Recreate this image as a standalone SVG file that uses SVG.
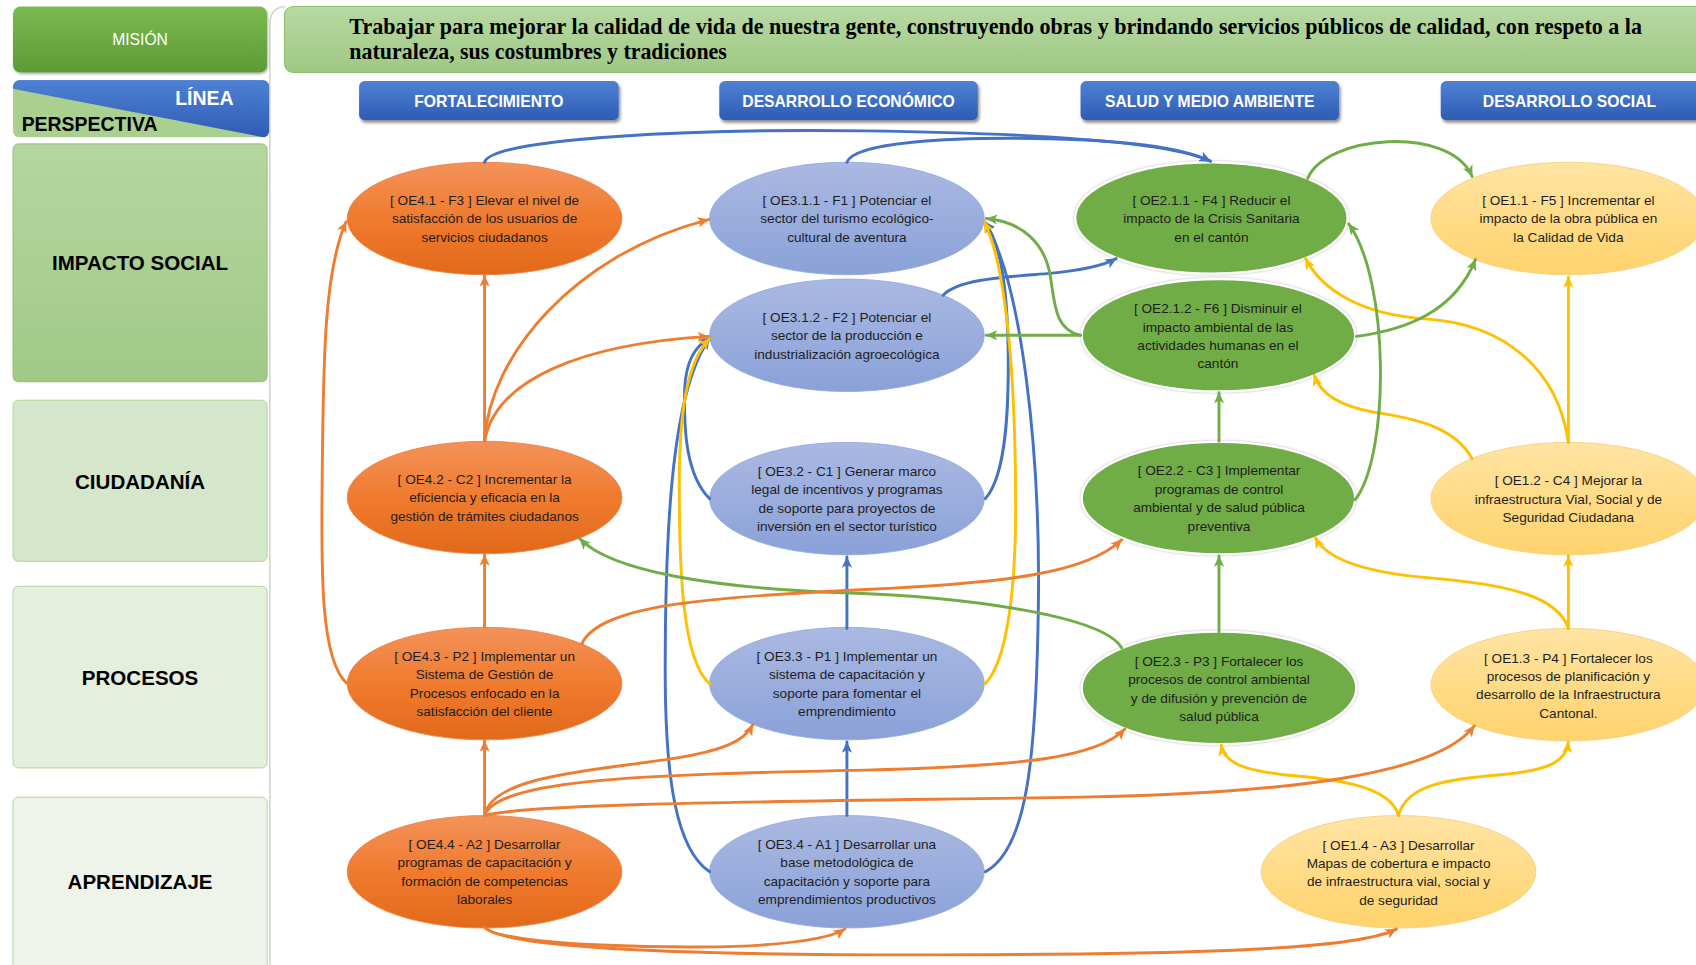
<svg xmlns="http://www.w3.org/2000/svg" width="1696" height="965" viewBox="0 0 1696 965">
<defs>
<linearGradient id="gOr" x1="0" y1="0" x2="0" y2="1"><stop offset="0" stop-color="#f3925a"/><stop offset="0.5" stop-color="#f07b2e"/><stop offset="1" stop-color="#e2691a"/></linearGradient>
<linearGradient id="gBl" x1="0" y1="0" x2="0" y2="1"><stop offset="0" stop-color="#aab9e2"/><stop offset="1" stop-color="#8aa1d8"/></linearGradient>
<linearGradient id="gYe" x1="0" y1="0" x2="0" y2="1"><stop offset="0" stop-color="#ffe4a3"/><stop offset="1" stop-color="#ffd36c"/></linearGradient>
<linearGradient id="gHd" x1="0" y1="0" x2="0" y2="1"><stop offset="0" stop-color="#4f81d4"/><stop offset="1" stop-color="#2e5cb4"/></linearGradient>
<linearGradient id="gMis" x1="0" y1="0" x2="0" y2="1"><stop offset="0" stop-color="#7bba50"/><stop offset="1" stop-color="#5d9a36"/></linearGradient>
<linearGradient id="gBan" x1="0" y1="0" x2="0" y2="1"><stop offset="0" stop-color="#b8d9a3"/><stop offset="1" stop-color="#9fc884"/></linearGradient>
<linearGradient id="gImp" x1="0" y1="0" x2="0" y2="1"><stop offset="0" stop-color="#b5d6a0"/><stop offset="1" stop-color="#a0c986"/></linearGradient>
<linearGradient id="gLin" x1="0" y1="0" x2="0" y2="1"><stop offset="0" stop-color="#4f81d4"/><stop offset="1" stop-color="#2e5cb4"/></linearGradient>
<filter id="shHd" x="-10%" y="-20%" width="120%" height="160%"><feDropShadow dx="1.5" dy="2.5" stdDeviation="1.3" flood-color="#000" flood-opacity="0.45"/></filter>
<filter id="shBox" x="-10%" y="-10%" width="120%" height="130%"><feDropShadow dx="0.8" dy="1.5" stdDeviation="1" flood-color="#000" flood-opacity="0.3"/></filter>
<filter id="halo" x="-10%" y="-10%" width="120%" height="120%"><feDropShadow dx="0" dy="0" stdDeviation="1.2" flood-color="#777" flood-opacity="0.6"/></filter>
<clipPath id="clipLin"><rect x="12" y="74" width="237" height="53" rx="6"/></clipPath>
<marker id="aO" viewBox="0 0 10 10" refX="9.5" refY="5" markerWidth="10.5" markerHeight="10.5" markerUnits="userSpaceOnUse" orient="auto"><path d="M0,0.5 L10,5 L0,9.5 L2.5,5 z" fill="#ed7d31"/></marker>
<marker id="aB" viewBox="0 0 10 10" refX="9.5" refY="5" markerWidth="10.5" markerHeight="10.5" markerUnits="userSpaceOnUse" orient="auto"><path d="M0,0.5 L10,5 L0,9.5 L2.5,5 z" fill="#4472c4"/></marker>
<marker id="aG" viewBox="0 0 10 10" refX="9.5" refY="5" markerWidth="10.5" markerHeight="10.5" markerUnits="userSpaceOnUse" orient="auto"><path d="M0,0.5 L10,5 L0,9.5 L2.5,5 z" fill="#70ad47"/></marker>
<marker id="aY" viewBox="0 0 10 10" refX="9.5" refY="5" markerWidth="10.5" markerHeight="10.5" markerUnits="userSpaceOnUse" orient="auto"><path d="M0,0.5 L10,5 L0,9.5 L2.5,5 z" fill="#ffc000"/></marker>
</defs>
<style>
.nt{font-family:"Liberation Sans",Arial,sans-serif;font-size:12.6px;fill:#1e1e1e;text-anchor:middle}
.eO{fill:url(#gOr);stroke:#ee8240;stroke-width:0.8}
.eB{fill:url(#gBl);stroke:#8eaadb;stroke-width:0.8}
.eG{fill:#70ad47;stroke:#ffffff;stroke-width:2.2;filter:url(#halo)}
.eY{fill:url(#gYe);stroke:#f5d07c;stroke-width:0.8}
.hd{fill:url(#gHd);filter:url(#shHd)}
.ht{font-family:"Liberation Sans",Arial,sans-serif;font-size:14.5px;font-weight:bold;fill:#ffffff;text-anchor:middle}
.lt{font-family:"Liberation Sans",Arial,sans-serif;font-size:19px;font-weight:bold;fill:#000;text-anchor:middle}
.c{fill:none;stroke-width:2.7;stroke-linecap:round}
.co{stroke:#ed7d31;marker-end:url(#aO)}
.cb{stroke:#4472c4;marker-end:url(#aB)}
.cg{stroke:#70ad47;marker-end:url(#aG)}
.cy{stroke:#ffc000;marker-end:url(#aY)}
</style>
<rect x="0" y="0" width="1696" height="965" fill="#ffffff"/>
<g transform="scale(1.081633)">
<path d="M249.5 892 L249.5 22 Q249.5 7 264 6" fill="none" stroke="#d4d4d4" stroke-width="1.5"/>
<g id="mision-label">
<rect x="12" y="6" width="235" height="61" rx="7" fill="url(#gMis)" filter="url(#shBox)"/>
<text x="129.5" y="42" style="font-family:'Liberation Sans',Arial,sans-serif;font-size:14.5px;fill:#fff;text-anchor:middle">MISIÓN</text>
</g>
<g id="linea-perspectiva">
<g clip-path="url(#clipLin)" filter="url(#shBox)">
<rect x="12" y="74" width="237" height="53" fill="url(#gLin)"/>
<polygon points="12,82 249,128 12,128" fill="#a9d08e"/>
</g>
<text x="189" y="97" style="font-family:'Liberation Sans',Arial,sans-serif;font-size:18px;font-weight:bold;fill:#fff;text-anchor:middle">LÍNEA</text>
<text x="20" y="121" style="font-family:'Liberation Sans',Arial,sans-serif;font-size:18px;font-weight:bold;fill:#000">PERSPECTIVA</text>
</g>
<g id="p-impacto"><rect x="12" y="133" width="235" height="220" rx="5" fill="url(#gImp)" stroke="#8cbf6e" stroke-width="0.8"/><text class="lt" x="129.5" y="250">IMPACTO SOCIAL</text></g>
<g id="p-ciudadania"><rect x="12" y="370" width="235" height="149" rx="5" fill="#d5e6ca" stroke="#a9d08e" stroke-width="0.8"/><text class="lt" x="129.5" y="452">CIUDADANÍA</text></g>
<g id="p-procesos"><rect x="12" y="542" width="235" height="168" rx="5" fill="#e5efde" stroke="#a9d08e" stroke-width="0.8"/><text class="lt" x="129.5" y="633">PROCESOS</text></g>
<g id="p-aprendizaje"><rect x="12" y="737" width="235" height="170" rx="5" fill="#eef4ea" stroke="#a9d08e" stroke-width="0.8"/><text class="lt" x="129.5" y="822">APRENDIZAJE</text></g>
<g id="mision-text">
<rect x="263" y="6" width="1330" height="61" rx="8" fill="url(#gBan)" stroke="#8dbf6d" stroke-width="1"/>
<text x="323" y="31" textLength="1195" lengthAdjust="spacingAndGlyphs" style="font-family:'Liberation Serif','Times New Roman',serif;font-size:20.5px;font-weight:bold;fill:#000">Trabajar para mejorar la calidad de vida de nuestra gente, construyendo obras y brindando servicios públicos de calidad, con respeto a la</text>
<text x="323" y="55" textLength="349" lengthAdjust="spacingAndGlyphs" style="font-family:'Liberation Serif','Times New Roman',serif;font-size:20.5px;font-weight:bold;fill:#000">naturaleza, sus costumbres y tradiciones</text>
</g>
<g id="h-fortalecimiento"><rect class="hd" x="332" y="75" width="240" height="36" rx="5"/><text class="ht" x="452" y="98.5">FORTALECIMIENTO</text></g>
<g id="h-economico"><rect class="hd" x="665" y="75" width="239" height="36" rx="5"/><text class="ht" x="784.5" y="98.5">DESARROLLO ECONÓMICO</text></g>
<g id="h-salud"><rect class="hd" x="999" y="75" width="239" height="36" rx="5"/><text class="ht" x="1118.5" y="98.5">SALUD Y MEDIO AMBIENTE</text></g>
<g id="h-social"><rect class="hd" x="1332" y="75" width="250" height="36" rx="5"/><text class="ht" x="1451" y="98.5">DESARROLLO SOCIAL</text></g>

<g id="OE4.1"><ellipse class="eO" cx="448" cy="202" rx="127" ry="52"/><text class="nt"><tspan x="448" y="189.5">[ OE4.1 - F3 ] Elevar el nivel de</tspan><tspan x="448" y="206.5">satisfacción de los usuarios de</tspan><tspan x="448" y="223.5">servicios ciudadanos</tspan></text></g>
<g id="OE4.2"><ellipse class="eO" cx="448" cy="460" rx="127" ry="52"/><text class="nt"><tspan x="448" y="447.5">[ OE4.2 - C2 ] Incrementar la</tspan><tspan x="448" y="464.5">eficiencia y eficacia en la</tspan><tspan x="448" y="481.5">gestión de trámites ciudadanos</tspan></text></g>
<g id="OE4.3"><ellipse class="eO" cx="448" cy="632" rx="127" ry="52"/><text class="nt"><tspan x="448" y="611">[ OE4.3 - P2 ] Implementar un</tspan><tspan x="448" y="628">Sistema de Gestión de</tspan><tspan x="448" y="645">Procesos enfocado en la</tspan><tspan x="448" y="662">satisfacción del cliente</tspan></text></g>
<g id="OE4.4"><ellipse class="eO" cx="448" cy="806" rx="127" ry="52"/><text class="nt"><tspan x="448" y="785">[ OE4.4 - A2 ] Desarrollar</tspan><tspan x="448" y="802">programas de capacitación y</tspan><tspan x="448" y="819">formación de competencias</tspan><tspan x="448" y="836">laborales</tspan></text></g>

<g id="OE3.1.1"><ellipse class="eB" cx="783" cy="202" rx="127" ry="52"/><text class="nt"><tspan x="783" y="189.5">[ OE3.1.1 - F1 ] Potenciar el</tspan><tspan x="783" y="206.5">sector del turismo ecológico-</tspan><tspan x="783" y="223.5">cultural de aventura</tspan></text></g>
<g id="OE3.1.2"><ellipse class="eB" cx="783" cy="310" rx="127" ry="52"/><text class="nt"><tspan x="783" y="297.5">[ OE3.1.2 - F2 ] Potenciar el</tspan><tspan x="783" y="314.5">sector de la producción e</tspan><tspan x="783" y="331.5">industrialización agroecológica</tspan></text></g>
<g id="OE3.2"><ellipse class="eB" cx="783" cy="461" rx="127" ry="52"/><text class="nt"><tspan x="783" y="440">[ OE3.2 - C1 ] Generar marco</tspan><tspan x="783" y="457">legal de incentivos y programas</tspan><tspan x="783" y="474">de soporte para proyectos de</tspan><tspan x="783" y="491">inversión en el sector turístico</tspan></text></g>
<g id="OE3.3"><ellipse class="eB" cx="783" cy="632" rx="127" ry="52"/><text class="nt"><tspan x="783" y="611">[ OE3.3 - P1 ] Implementar un</tspan><tspan x="783" y="628">sistema de capacitación y</tspan><tspan x="783" y="645">soporte para fomentar el</tspan><tspan x="783" y="662">emprendimiento</tspan></text></g>
<g id="OE3.4"><ellipse class="eB" cx="783" cy="806" rx="127" ry="52"/><text class="nt"><tspan x="783" y="785">[ OE3.4 - A1 ] Desarrollar una</tspan><tspan x="783" y="802">base metodológica de</tspan><tspan x="783" y="819">capacitación y soporte para</tspan><tspan x="783" y="836">emprendimientos productivos</tspan></text></g>

<g id="OE2.1.1"><ellipse class="eG" cx="1120" cy="201.5" rx="126" ry="51.5"/><text class="nt"><tspan x="1120" y="189.5">[ OE2.1.1 - F4 ] Reducir el</tspan><tspan x="1120" y="206.5">impacto de la Crisis Sanitaria</tspan><tspan x="1120" y="223.5">en el cantón</tspan></text></g>
<g id="OE2.1.2"><ellipse class="eG" cx="1126.5" cy="310" rx="126.5" ry="52"/><text class="nt"><tspan x="1126" y="289.5">[ OE2.1.2 - F6 ] Disminuir el</tspan><tspan x="1126" y="306.5">impacto ambiental de las</tspan><tspan x="1126" y="323.5">actividades humanas en el</tspan><tspan x="1126" y="340.5">cantón</tspan></text></g>
<g id="OE2.2"><ellipse class="eG" cx="1126.5" cy="460.5" rx="126.5" ry="52"/><text class="nt"><tspan x="1127" y="439.5">[ OE2.2 - C3 ] Implementar</tspan><tspan x="1127" y="456.5">programas de control</tspan><tspan x="1127" y="473.5">ambiental y de salud pública</tspan><tspan x="1127" y="490.5">preventiva</tspan></text></g>
<g id="OE2.3"><ellipse class="eG" cx="1127" cy="636" rx="127" ry="52"/><text class="nt"><tspan x="1127" y="615.5">[ OE2.3 - P3 ] Fortalecer los</tspan><tspan x="1127" y="632.5">procesos de control ambiental</tspan><tspan x="1127" y="649.5">y de difusión y prevención de</tspan><tspan x="1127" y="666.5">salud pública</tspan></text></g>

<g id="OE1.1"><ellipse class="eY" cx="1450" cy="202" rx="127" ry="52"/><text class="nt"><tspan x="1450" y="189.5">[ OE1.1 - F5 ] Incrementar el</tspan><tspan x="1450" y="206.5">impacto de la obra pública en</tspan><tspan x="1450" y="223.5">la Calidad de Vida</tspan></text></g>
<g id="OE1.2"><ellipse class="eY" cx="1450" cy="461" rx="127" ry="52"/><text class="nt"><tspan x="1450" y="448.5">[ OE1.2 - C4 ] Mejorar la</tspan><tspan x="1450" y="465.5">infraestructura Vial, Social y de</tspan><tspan x="1450" y="482.5">Seguridad Ciudadana</tspan></text></g>
<g id="OE1.3"><ellipse class="eY" cx="1450" cy="633" rx="127" ry="52"/><text class="nt"><tspan x="1450" y="612.5">[ OE1.3 - P4 ] Fortalecer los</tspan><tspan x="1450" y="629.5">procesos de planificación y</tspan><tspan x="1450" y="646.5">desarrollo de la Infraestructura</tspan><tspan x="1450" y="663.5">Cantonal.</tspan></text></g>
<g id="OE1.4"><ellipse class="eY" cx="1293" cy="806" rx="127" ry="52"/><text class="nt"><tspan x="1293" y="785.5">[ OE1.4 - A3 ] Desarrollar</tspan><tspan x="1293" y="802.5">Mapas de cobertura e impacto</tspan><tspan x="1293" y="819.5">de infraestructura vial, social y</tspan><tspan x="1293" y="836.5">de seguridad</tspan></text></g>

<g id="connectors">
<path class="c cb" d="M448 150 C 455 127, 650 119, 800 121 C 950 123, 1080 131, 1119 149"/>
<path class="c cb" d="M783 150 C 790 131, 880 127, 955 128 C 1030 129, 1090 135, 1119 149"/>
<path class="c cb" d="M872 273 C 885 258, 930 256, 968 253 C 1000 250, 1020 246, 1032 239"/>
<path class="c cb" d="M783 581 L783 515"/>
<path class="c cb" d="M783 754 L783 686"/>
<path class="c cb" d="M656 461 C 635 440, 632 400, 633 360 C 634 335, 642 320, 656 313"/>
<path class="c cb" d="M656 806 C 625 785, 615 720, 615 620 C 615 480, 622 360, 656 313"/>
<path class="c cb" d="M911 461 C 930 440, 933 380, 932 320 C 931 260, 924 222, 910 205"/>
<path class="c cb" d="M911 806 C 950 785, 958 700, 960 560 C 962 420, 945 260, 910 205"/>
<path class="c cy" d="M656 632 C 630 610, 628 520, 628 450 C 628 380, 635 335, 656 313"/>
<path class="c cy" d="M911 632 C 932 610, 939 540, 939 470 C 939 360, 932 250, 910 205"/>
<path class="c cy" d="M1450 409 L1450 256"/>
<path class="c cy" d="M1450 409 C 1440 340, 1390 300, 1320 295 C 1258 291, 1222 268, 1207 239"/>
<path class="c cy" d="M1361 424 C 1345 395, 1310 387, 1270 381 C 1235 375, 1220 362, 1215 347"/>
<path class="c cy" d="M1450 581 L1450 514"/>
<path class="c cy" d="M1450 581 C 1440 550, 1390 540, 1320 534 C 1260 529, 1226 516, 1216 497"/>
<path class="c cy" d="M1293 754 C 1285 725, 1230 720, 1185 716 C 1150 712, 1132 705, 1129 689"/>
<path class="c cy" d="M1293 754 C 1300 725, 1340 720, 1390 716 C 1430 712, 1448 705, 1450 686"/>
<path class="c cg" d="M1209 165 C 1225 125, 1340 115, 1361 163"/>
<path class="c cg" d="M1254 311 C 1300 305, 1345 288, 1364 240"/>
<path class="c cg" d="M999 310 L912 310"/>
<path class="c cg" d="M999 310 C 975 305, 975 280, 971 255 C 966 225, 945 205, 912 202"/>
<path class="c cg" d="M1127 408 L1127 363"/>
<path class="c cg" d="M1253 462 C 1285 420, 1285 260, 1247 207"/>
<path class="c cg" d="M1127 584 L1127 514"/>
<path class="c cg" d="M1037 599 C 1020 570, 900 552, 780 548 C 660 544, 565 528, 536 498"/>
<path class="c co" d="M448 408 L448 255"/>
<path class="c co" d="M448 408 C 452 330, 530 235, 655 203"/>
<path class="c co" d="M448 408 C 458 350, 540 318, 655 311"/>
<path class="c co" d="M448 580 L448 513"/>
<path class="c co" d="M321 632 C 295 610, 297 520, 298 430 C 299 330, 300 250, 320 205"/>
<path class="c co" d="M538 595 C 555 560, 650 552, 800 545 C 930 539, 1005 530, 1037 499"/>
<path class="c co" d="M448 754 L448 685"/>
<path class="c co" d="M448 754 C 455 715, 560 712, 630 700 C 670 693, 688 685, 696 670"/>
<path class="c co" d="M448 754 C 460 720, 600 716, 800 712 C 950 708, 1015 700, 1040 674"/>
<path class="c co" d="M448 754 C 490 742, 750 741, 1000 737 C 1200 733, 1330 715, 1363 671"/>
<path class="c co" d="M448 857 C 460 875, 640 878, 700 874 C 745 871, 770 866, 781 859"/>
<path class="c co" d="M448 857 C 470 885, 800 884, 1000 882 C 1150 880, 1260 875, 1291 859"/>
</g>
</g>
</svg>
